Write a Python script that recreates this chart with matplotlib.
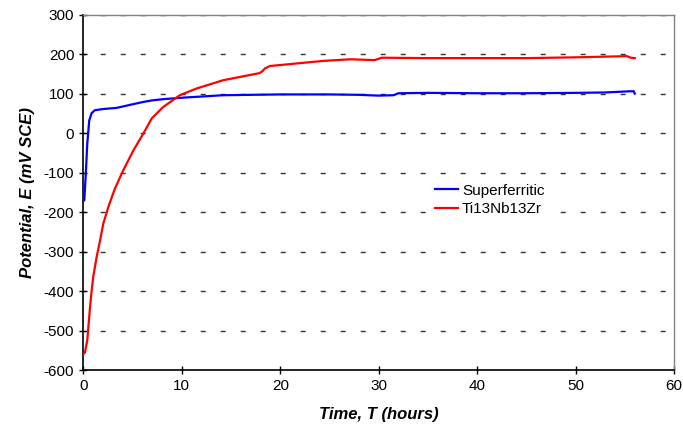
import matplotlib
matplotlib.use("Agg")
import matplotlib.pyplot as plt
import numpy as np

plt.rcParams['font.family'] = ['Liberation Sans', 'DejaVu Sans']
plt.rcParams['axes.unicode_minus'] = False

# Superferritic open-circuit potential (hours, mV SCE)
t_sf = [0.0, 0.1, 0.27, 0.4, 0.6, 0.85, 1.18, 2.0, 3.4, 5.0, 6.1, 7.0, 8.1, 10.2,
        14.2, 17.0, 20.0, 25.0, 28.0, 30.0, 31.5, 32.0, 35.0, 40.0, 45.0, 50.0,
        53.0, 55.5, 55.9, 56.0]
e_sf = [-172, -170, -94, -27, 32, 51, 58, 61, 64, 73, 79, 83, 86, 90,
        96, 97, 98, 98, 97, 95, 96, 101, 102, 101, 101, 102,
        103, 106, 106, 100]

# Ti13Nb13Zr
t_ti = [0.0, 0.17, 0.4, 0.68, 0.85, 1.0, 1.35, 1.7, 2.03, 2.54, 3.2, 4.06, 5.08,
        6.1, 6.94, 8.1, 9.8, 11.5, 14.2, 17.9, 18.2, 18.45, 18.95, 22.3, 24.4,
        27.1, 29.6, 30.3, 35.0, 40.0, 45.0, 50.0, 55.2, 55.6, 56.0]
e_ti = [-560, -555, -525, -441, -398, -365, -314, -272, -229, -187, -141, -94, -44,
        -1, 37, 66, 96, 113, 134, 152, 157, 164, 170, 178, 183,
        187, 185, 191, 190, 190, 190, 192, 195, 191, 190]

fig = plt.figure(figsize=(6.83, 4.32), dpi=100)
ax = fig.add_axes([0.122, 0.1435, 0.865, 0.8225])

for y in range(-500, 301, 100):
    ax.axhline(y, color='#333333', lw=1.0, linestyle=(2, (3.6, 10.8)), zorder=1)

ax.plot(t_sf, e_sf, color='#0000ff', lw=1.6, label='Superferritic', zorder=3)
ax.plot(t_ti, e_ti, color='#ff0000', lw=1.6, label='Ti13Nb13Zr', zorder=3)

ax.set_xlim(0, 60)
ax.set_ylim(-600, 300)
ax.set_xticks(np.arange(0, 61, 10))
ax.set_yticks(np.arange(-600, 301, 100))
ax.tick_params(direction='inout', length=6, width=1, labelsize=11, colors='black')

for s in ['left', 'bottom']:
    ax.spines[s].set_color('black')
    ax.spines[s].set_linewidth(1.2)
for s in ['top', 'right']:
    ax.spines[s].set_color('#808080')
    ax.spines[s].set_linewidth(1.0)

ax.set_xlabel('Time, T (hours)', fontsize=12, fontweight='bold', fontstyle='italic', labelpad=10)
ax.set_ylabel('Potential, E (mV SCE)', fontsize=12, fontweight='bold', fontstyle='italic', labelpad=6)

leg = ax.legend(loc='center left', bbox_to_anchor=(0.572, 0.479), frameon=True, fontsize=11,
                handlelength=1.5, handletextpad=0.26, labelspacing=0.3,
                fancybox=False, framealpha=1.0, facecolor='white', edgecolor='none')
leg.set_zorder(5)

fig.savefig('out.png', dpi=100)
